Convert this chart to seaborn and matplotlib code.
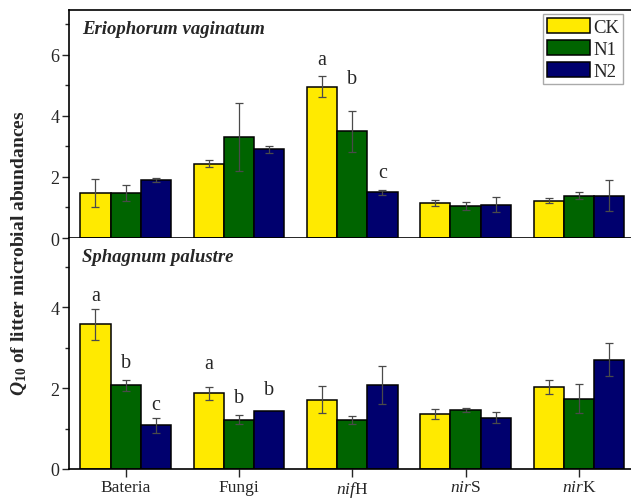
import matplotlib
matplotlib.use("Agg")
import matplotlib.pyplot as plt
import seaborn as sns
import pandas as pd
import numpy as np
from matplotlib.ticker import MultipleLocator
from matplotlib.patches import Patch

categories = ['Bateria', 'Fungi', 'nifH', 'nirS', 'nirK']
tick_labels = ['Bateria', 'Fungi', r'$\mathit{nif}$H', r'$\mathit{nir}$S', r'$\mathit{nir}$K']
treatments = ['CK', 'N1', 'N2']
colors = ['#FFEA00', '#006400', '#00006E']

erio_ck = [1.47, 2.44, 4.96, 1.14, 1.22]
erio_ck_se = [0.46, 0.10, 0.35, 0.10, 0.08]
erio_n1 = [1.47, 3.31, 3.49, 1.04, 1.39]
erio_n1_se = [0.26, 1.10, 0.68, 0.13, 0.11]
erio_n2 = [1.90, 2.90, 1.50, 1.09, 1.39]
erio_n2_se = [0.08, 0.10, 0.08, 0.24, 0.50]

sph_ck = [3.58, 1.87, 1.72, 1.36, 2.03]
sph_ck_se = [0.38, 0.16, 0.34, 0.13, 0.18]
sph_n1 = [2.07, 1.22, 1.21, 1.45, 1.74]
sph_n1_se = [0.13, 0.11, 0.10, 0.05, 0.36]
sph_n2 = [1.08, 1.44, 2.09, 1.27, 2.71]
sph_n2_se = [0.18, 0.0, 0.47, 0.14, 0.40]

erio_letters = [('nifH', 'CK', 'a', 5.84), ('nifH', 'N1', 'b', 5.21), ('nifH', 'N2', 'c', 2.16)]
sph_letters = [('Bateria', 'CK', 'a', 4.30), ('Bateria', 'N1', 'b', 2.64), ('Bateria', 'N2', 'c', 1.60),
               ('Fungi', 'CK', 'a', 2.61), ('Fungi', 'N1', 'b', 1.77), ('Fungi', 'N2', 'b', 1.97)]

sns.set_theme(style='ticks')
plt.rcParams['font.family'] = ['Liberation Serif', 'DejaVu Serif']
plt.rcParams['mathtext.fontset'] = 'custom'
plt.rcParams['mathtext.rm'] = 'Liberation Serif'
plt.rcParams['mathtext.it'] = 'Liberation Serif:italic'
plt.rcParams['mathtext.bf'] = 'Liberation Serif:bold'
plt.rcParams['mathtext.bfit'] = 'Liberation Serif:italic:bold'


def make_df(ck, n1, n2, ck_se, n1_se, n2_se):
    rows = []
    for t, vals, ses in zip(treatments, [ck, n1, n2], [ck_se, n1_se, n2_se]):
        for c, v, s in zip(categories, vals, ses):
            rows.append({'gene': c, 'treat': t, 'value': v, 'se': s})
    return pd.DataFrame(rows)


df_top = make_df(erio_ck, erio_n1, erio_n2, erio_ck_se, erio_n1_se, erio_n2_se)
df_bot = make_df(sph_ck, sph_n1, sph_n2, sph_ck_se, sph_n1_se, sph_n2_se)

fig = plt.figure(figsize=(6.31, 5.02), dpi=100)
L, R = 69 / 631, 1.0
ax1 = fig.add_axes([L, 1 - 239 / 502, R - L, 228 / 502])
ax2 = fig.add_axes([L, 1 - 470 / 502, R - L, 231 / 502])


def draw(ax, df, letters, ylim, major, title):
    sns.barplot(data=df, x='gene', y='value', hue='treat', order=categories,
                hue_order=treatments, palette=colors, errorbar=None, width=0.8,
                edgecolor='black', linewidth=1.1, ax=ax, legend=False, saturation=1)
    centers = {}
    for t, cont in zip(treatments, ax.containers):
        sub = df[df.treat == t].set_index('gene').loc[categories]
        xs = [b.get_x() + b.get_width() / 2 for b in cont]
        hs = [b.get_height() for b in cont]
        for c, x in zip(categories, xs):
            centers[(c, t)] = x
        mask = sub['se'].values > 0
        ax.errorbar(np.array(xs)[mask], np.array(hs)[mask], yerr=sub['se'].values[mask],
                    fmt='none', ecolor='#4a4a4a', elinewidth=0.9, capsize=3, capthick=0.9, zorder=5)
    for c, t, lab, y in letters:
        ax.text(centers[(c, t)], y, lab, ha='center', va='center', fontsize=14.5)
    ax.set_ylim(*ylim)
    ax.set_xlim(-0.5, 4.46)
    ax.yaxis.set_major_locator(MultipleLocator(major))
    ax.yaxis.set_minor_locator(MultipleLocator(1))
    ax.set_xlabel('')
    ax.set_ylabel('')
    ax.tick_params(axis='y', which='major', direction='out', length=5, width=1, labelsize=13, pad=2)
    ax.tick_params(axis='y', which='minor', direction='out', length=3, width=1)
    ax.text(0.024, 0.92, title, transform=ax.transAxes,
            fontsize=13.5, fontweight='bold', fontstyle='italic', ha='left', va='center')
    for s in ax.spines.values():
        s.set_linewidth(1.2)
        s.set_color('black')
    ax.spines['right'].set_visible(False)


draw(ax1, df_top, erio_letters, (0, 7.47), 2, 'Eriophorum vaginatum')
draw(ax2, df_bot, sph_letters, (0, 5.72), 2, 'Sphagnum palustre')

ax1.tick_params(axis='x', which='both', length=0, labelbottom=False)
ax2.spines['top'].set_visible(False)
ax2.set_xticks(range(len(categories)))
ax2.set_xticklabels(tick_labels)
ax2.tick_params(axis='x', direction='out', length=6, width=1, labelsize=12.5, pad=1.5)

handles = [Patch(facecolor=c, edgecolor='black', linewidth=1.1) for c in colors]
leg = ax1.legend(handles, treatments, loc='upper right', bbox_to_anchor=(0.986, 0.982),
                 borderaxespad=0, fontsize=13.5, frameon=True, fancybox=False, framealpha=1,
                 handlelength=2.3, handleheight=0.85, handletextpad=0.2, labelspacing=0.22,
                 borderpad=0.2)
leg.get_frame().set_edgecolor('#aaaaaa')
leg.get_frame().set_linewidth(1.0)

fig.text(0.03, 0.496, r'$\mathbfit{Q}_{\mathbf{10}}$ of litter microbial abundances',
         rotation=90, ha='center', va='center', fontsize=14, fontweight='bold')

fig.savefig('out.png', dpi=100)
